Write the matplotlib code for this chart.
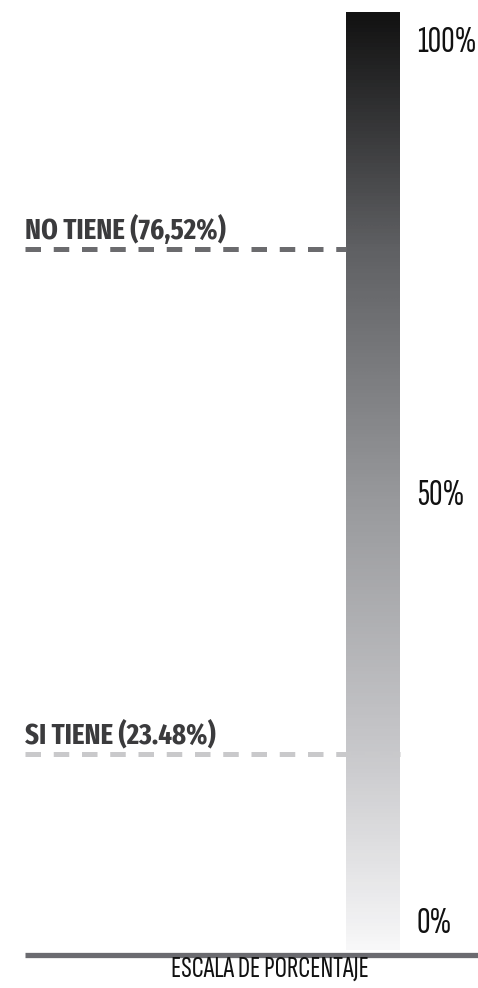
import numpy as np
import matplotlib
matplotlib.use("Agg")
import matplotlib.pyplot as plt
from matplotlib.colors import LinearSegmentedColormap

# datos
categorias = ["NO TIENE (76,52%)", "SI TIENE (23.48%)"]
valores = [76.52, 23.48]
colores_linea = ["#6b6b6e", "#c9c9cb"]
ticks = [100, 50, 0]
tick_labels = ["100%", "50%", "0%"]
titulo_eje = "ESCALA DE PORCENTAJE"

fuente = "Sofia Sans Extra Condensed"
fuente_bold = "Fira Sans Extra Condensed"
plt.rcParams["font.family"] = [fuente, "DejaVu Sans"]

fig = plt.figure(figsize=(4.78, 9.88), dpi=100)
ax = fig.add_axes([0, 0, 1, 1])
ax.set_xlim(0, 478)
ax.set_ylim(-1.09, 102.7)
ax.axis("off")

# barra con degradado
bar_bottom, bar_top = 2.9, 101.4
cmap = LinearSegmentedColormap.from_list(
    "gris", [(0, "#121212"), (0.25, "#5f6063"), (0.52, "#98999c"),
             (0.79, "#c8c8cb"), (1, "#f7f7f8")])
grad = np.linspace(0, 1, 256).reshape(-1, 1)
ax.imshow(grad, cmap=cmap, aspect="auto", origin="upper",
          extent=[346, 400, bar_bottom, bar_top], zorder=1, interpolation="bilinear")

# lineas de valores
for i, (cat, v) in enumerate(zip(categorias, valores)):
    x_fin = 346 if i == 0 else 400
    ax.hlines(v, 25, x_fin, colors=colores_linea[i], linewidth=3.6,
              linestyles=(0, (3.1, 2.55)), zorder=2)
    ax.annotate(cat, (25, v), xytext=(0, 3), textcoords="offset points",
                ha="left", va="bottom", fontsize=21, fontweight="bold",
                family=[fuente_bold, "DejaVu Sans"], color="#3b3b3d")

# etiquetas de escala
ax.annotate(tick_labels[0], (417, bar_top), xytext=(0, -10), textcoords="offset points",
            ha="left", va="top", fontsize=27, color="#111111")
ax.annotate(tick_labels[1], (417, (bar_top + bar_bottom) / 2), xytext=(0, -10),
            textcoords="offset points", ha="left", va="center", fontsize=27, color="#111111")
ax.annotate(tick_labels[2], (417, bar_bottom), xytext=(0, 7), textcoords="offset points",
            ha="left", va="bottom", fontsize=27, color="#111111")

# linea base
ax.hlines(2.37, 25, 478, colors="#6b6b70", linewidth=3.8, zorder=3)
ax.text(270, 0.9, titulo_eje, ha="center", va="center", fontsize=22, color="#111111")

fig.savefig("out.png", dpi=100)
